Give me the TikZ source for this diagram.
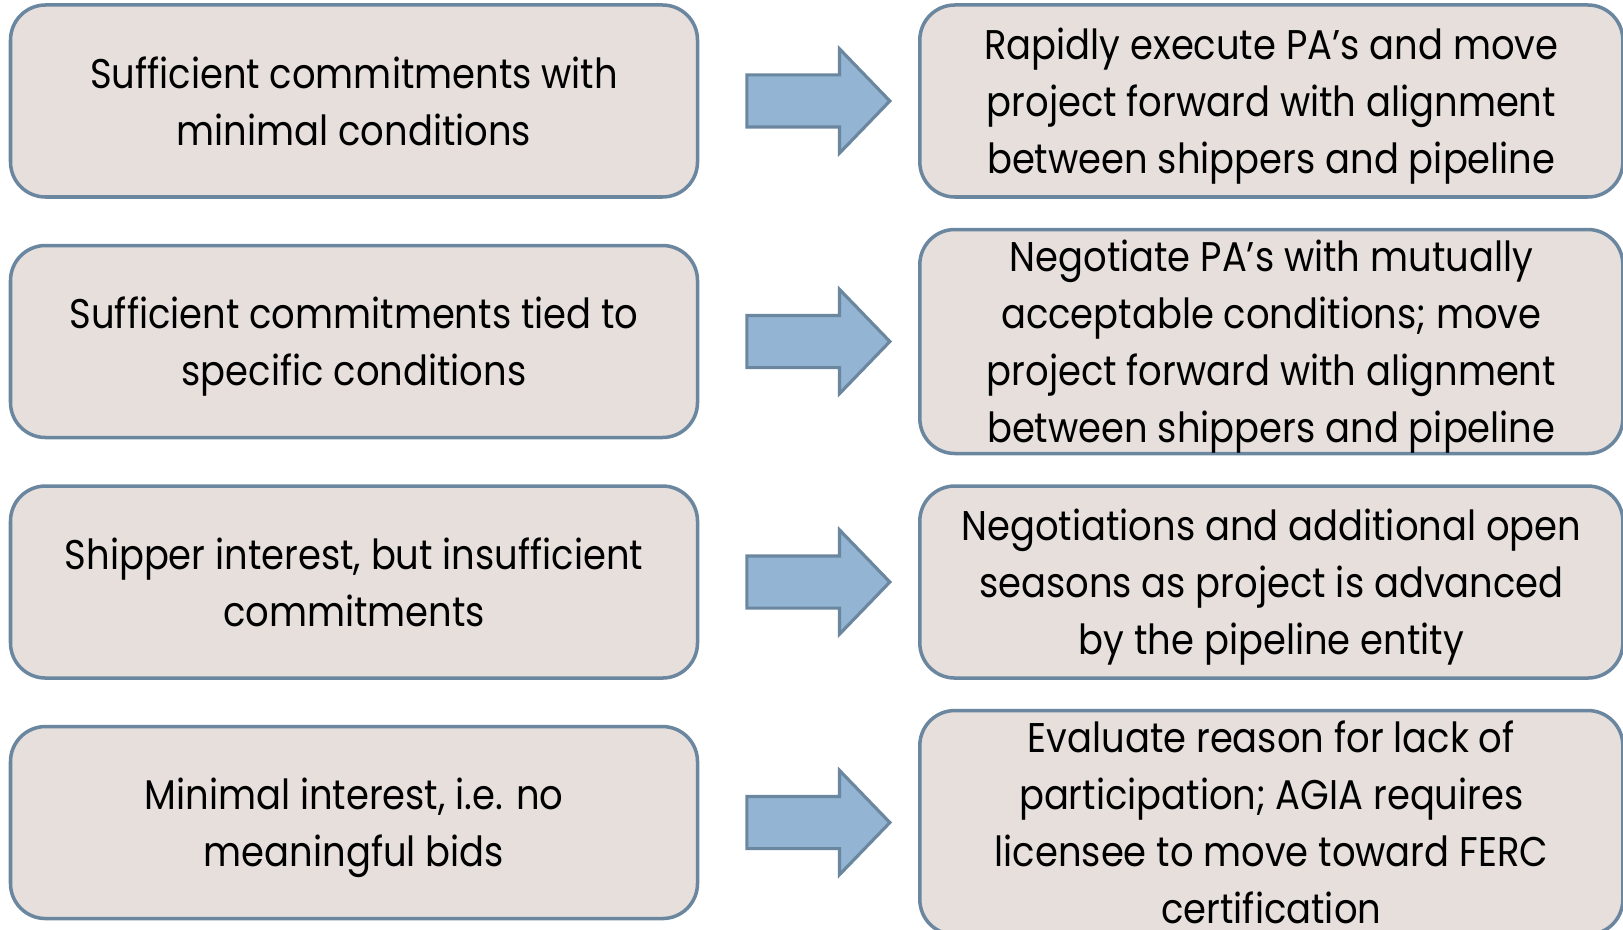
\documentclass[tikz,border=0pt]{standalone}
\usepackage{fontspec}
\setmainfont{Poppins}[FakeStretch=0.89]
\usetikzlibrary{positioning, shapes.arrows}

\definecolor{boxfill}{HTML}{E6DFDC}
\definecolor{boxline}{HTML}{6B87A0}
\definecolor{arrowfill}{HTML}{93B4D2}

\begin{document}
\begin{tikzpicture}[
    every node/.style={font=\fontsize{11.8}{16.2}\selectfont, text=black},
    leftbox/.style={rectangle, rounded corners=0.35cm, draw=boxline, line width=1pt, fill=boxfill,
        minimum width=6.87cm, minimum height=1.92cm, inner sep=0pt, align=center, text depth=-1.1pt},
    rightbox/.style={leftbox, minimum width=7.03cm},
    blockarrow/.style={single arrow, draw=boxline, line width=0.9pt, fill=arrowfill,
        inner xsep=0pt, inner ysep=0.245cm, single arrow head extend=0.26cm,
        single arrow tip angle=92, minimum height=1.43cm}
]
    \useasboundingbox (0,0) rectangle (16.23,-9.30);

    \node (L1) [leftbox] at (3.54, -1.01) {Sufficient commitments with\\minimal conditions};
    \node (L2) [leftbox, below=0.45cm of L1] {Sufficient commitments tied to\\specific conditions};
    \node (L3) [leftbox, below=0.45cm of L2] {Shipper interest, but insufficient\\commitments};
    \node (L4) [leftbox, below=0.45cm of L3] {Minimal interest, i.e. no\\meaningful bids};

    \node (A1) [blockarrow, right=0.46cm of L1] {};
    \node (A2) [blockarrow, right=0.46cm of L2] {};
    \node (A3) [blockarrow, right=0.46cm of L3] {};
    \node (A4) [blockarrow, right=0.46cm of L4] {};

    \node (R1) [rightbox, right=0.26cm of A1] {Rapidly execute PA’s and move\\project forward with alignment\\between shippers and pipeline};
    \node (R2) [rightbox, right=0.26cm of A2, minimum height=2.24cm] {Negotiate PA’s with mutually\\acceptable conditions; move\\project forward with alignment\\between shippers and pipeline};
    \node (R3) [rightbox, right=0.26cm of A3] {Negotiations and additional open\\seasons as project is advanced\\by the pipeline entity};
    \node (R4) [rightbox, right=0.26cm of A4, minimum height=2.24cm] {Evaluate reason for lack of\\participation; AGIA requires\\licensee to move toward FERC\\certification};
\end{tikzpicture}
\end{document}
